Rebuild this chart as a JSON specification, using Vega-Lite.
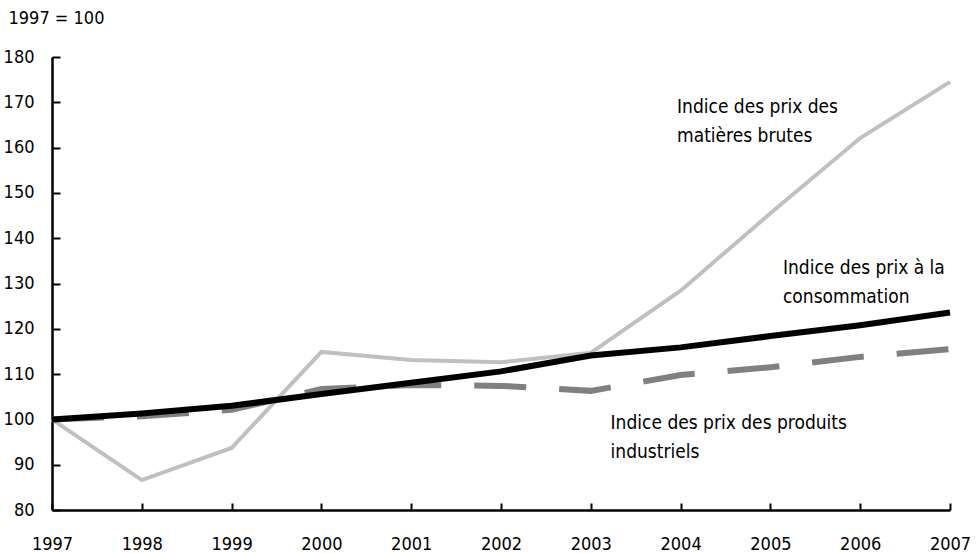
{
  "$schema": "https://vega.github.io/schema/vega-lite/v6.json",
  "autosize": "none",
  "width": 898,
  "height": 453,
  "padding": {"left": 52, "top": 57, "right": 30, "bottom": 43},
  "background": "white",
  "config": {
    "view": {"stroke": null},
    "font": "DejaVu Sans Condensed, Roboto, sans-serif",
    "text": {"font": "DejaVu Sans Condensed, Roboto, sans-serif"}
  },
  "datasets": {
    "series": [
      {"year": 1997, "series": "mat", "value": 100},
      {"year": 1998, "series": "mat", "value": 86.6},
      {"year": 1999, "series": "mat", "value": 93.7},
      {"year": 2000, "series": "mat", "value": 114.9},
      {"year": 2001, "series": "mat", "value": 113.1},
      {"year": 2002, "series": "mat", "value": 112.6},
      {"year": 2003, "series": "mat", "value": 114.7},
      {"year": 2004, "series": "mat", "value": 128.4},
      {"year": 2005, "series": "mat", "value": 145.5},
      {"year": 2006, "series": "mat", "value": 162.1},
      {"year": 2007, "series": "mat", "value": 174.5},
      {"year": 1997, "series": "ind", "value": 100},
      {"year": 1998, "series": "ind", "value": 100.7},
      {"year": 1999, "series": "ind", "value": 102.1},
      {"year": 2000, "series": "ind", "value": 106.7},
      {"year": 2001, "series": "ind", "value": 107.6},
      {"year": 2002, "series": "ind", "value": 107.4},
      {"year": 2003, "series": "ind", "value": 106.3},
      {"year": 2004, "series": "ind", "value": 109.8},
      {"year": 2005, "series": "ind", "value": 111.5},
      {"year": 2006, "series": "ind", "value": 113.8},
      {"year": 2007, "series": "ind", "value": 115.5},
      {"year": 1997, "series": "cpi", "value": 100},
      {"year": 1998, "series": "cpi", "value": 101.3},
      {"year": 1999, "series": "cpi", "value": 103},
      {"year": 2000, "series": "cpi", "value": 105.6},
      {"year": 2001, "series": "cpi", "value": 108.1},
      {"year": 2002, "series": "cpi", "value": 110.6},
      {"year": 2003, "series": "cpi", "value": 114.1},
      {"year": 2004, "series": "cpi", "value": 115.9},
      {"year": 2005, "series": "cpi", "value": 118.4},
      {"year": 2006, "series": "cpi", "value": 120.8},
      {"year": 2007, "series": "cpi", "value": 123.6}
    ],
    "labels": [
      {"year": 2003.96, "value": 169.0, "label": ["Indice des prix des", "matières brutes"]},
      {"year": 2005.14, "value": 133.4, "label": ["Indice des prix à la", "consommation"]},
      {"year": 2003.22, "value": 99.2, "label": ["Indice des prix des produits", "industriels"]}
    ]
  },
  "layer": [
    {
      "data": {"name": "series"},
      "transform": [{"filter": "datum.series === 'mat'"}],
      "mark": {"type": "line", "color": "#c0c0c0", "strokeWidth": 4},
      "encoding": {
        "x": {
          "field": "year", "type": "quantitative",
          "scale": {"domain": [1997, 2007], "nice": false, "zero": false},
          "axis": {
            "values": [1997, 1998, 1999, 2000, 2001, 2002, 2003, 2004, 2005, 2006, 2007],
            "format": "d", "title": null, "grid": false,
            "domainColor": "black", "domainWidth": 2.5,
            "tickColor": "black", "tickWidth": 2, "tickSize": -7,
            "labelFont": "DejaVu Sans Condensed, Roboto, sans-serif", "labelFontSize": 18, "labelColor": "black",
            "labelPadding": 41, "labelBaseline": "middle", "labelFlush": false
          }
        },
        "y": {
          "field": "value", "type": "quantitative",
          "scale": {"domain": [80, 180], "nice": false, "zero": false},
          "axis": {
            "values": [80, 90, 100, 110, 120, 130, 140, 150, 160, 170, 180],
            "title": "1997 = 100", "titleAngle": 0, "titleAlign": "left", "titleBaseline": "middle",
            "titleX": -44, "titleY": -39, "titleFont": "DejaVu Sans Condensed, Roboto, sans-serif", "titleFontSize": 18,
            "titleFontWeight": "normal", "titleColor": "black",
            "grid": false,
            "domainColor": "black", "domainWidth": 2.5,
            "tickColor": "black", "tickWidth": 2, "tickSize": -8,
            "labelFont": "DejaVu Sans Condensed, Roboto, sans-serif", "labelFontSize": 18, "labelColor": "black",
            "labelPadding": 26, "labelFlush": false
          }
        }
      }
    },
    {
      "data": {"name": "series"},
      "transform": [{"filter": "datum.series === 'ind'"}],
      "mark": {"type": "line", "color": "#808080", "strokeWidth": 6, "strokeDash": [52, 33]},
      "encoding": {
        "x": {"field": "year", "type": "quantitative"},
        "y": {"field": "value", "type": "quantitative"}
      }
    },
    {
      "data": {"name": "series"},
      "transform": [{"filter": "datum.series === 'cpi'"}],
      "mark": {"type": "line", "color": "black", "strokeWidth": 6},
      "encoding": {
        "x": {"field": "year", "type": "quantitative"},
        "y": {"field": "value", "type": "quantitative"}
      }
    },
    {
      "data": {"name": "labels"},
      "mark": {"type": "text", "align": "left", "baseline": "middle", "fontSize": 19, "lineHeight": 29, "color": "black", "font": "DejaVu Sans Condensed, Roboto, sans-serif"},
      "encoding": {
        "x": {"field": "year", "type": "quantitative"},
        "y": {"field": "value", "type": "quantitative"},
        "text": {"field": "label"}
      }
    }
  ]
}
